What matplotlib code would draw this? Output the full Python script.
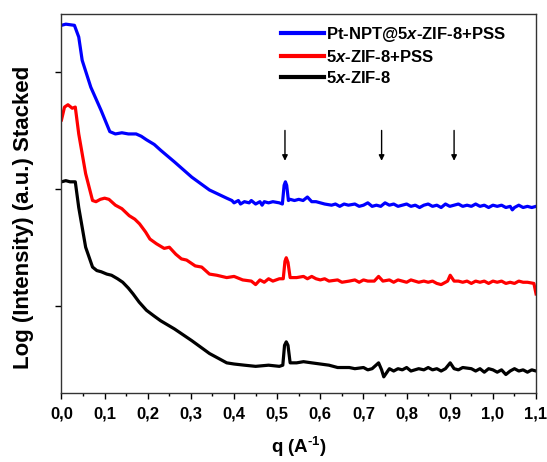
import matplotlib
matplotlib.use("Agg")
import matplotlib.pyplot as plt
from matplotlib.ticker import MultipleLocator, FuncFormatter

plt.rcParams['font.family'] = ['Liberation Sans', 'DejaVu Sans']
plt.rcParams['font.weight'] = 'bold'
plt.rcParams['mathtext.fontset'] = 'custom'
plt.rcParams['mathtext.it'] = 'Liberation Sans:italic:bold'
plt.rcParams['mathtext.rm'] = 'Liberation Sans:bold'
plt.rcParams['mathtext.bf'] = 'Liberation Sans:bold'

# q values (A^-1) and stacked log intensities
q_blue = [0.0, 0.01, 0.03, 0.04, 0.048, 0.068, 0.092, 0.112, 0.125, 0.14, 0.155, 0.173,
          0.185, 0.197, 0.215, 0.23, 0.262, 0.302, 0.343, 0.383, 0.395, 0.40, 0.41, 0.415,
          0.424, 0.435, 0.44, 0.45, 0.46, 0.465, 0.47, 0.48, 0.49, 0.505, 0.512, 0.516,
          0.519, 0.522, 0.526, 0.53, 0.54, 0.55, 0.56, 0.57, 0.58, 0.59, 0.60, 0.61,
          0.626, 0.635, 0.645, 0.655, 0.665, 0.68, 0.69, 0.70, 0.71, 0.72, 0.73, 0.74,
          0.75, 0.76, 0.77, 0.78, 0.79, 0.80, 0.81, 0.82, 0.83, 0.84, 0.85, 0.86, 0.87,
          0.88, 0.89, 0.90, 0.91, 0.92, 0.93, 0.94, 0.95, 0.96, 0.97, 0.98, 0.99, 1.0,
          1.01, 1.02, 1.03, 1.04, 1.045, 1.05, 1.06, 1.07, 1.08, 1.09, 1.1]
y_blue = [3.40, 3.41, 3.40, 3.30, 3.10, 2.87, 2.67, 2.49, 2.47, 2.48, 2.47, 2.47,
          2.45, 2.42, 2.38, 2.33, 2.23, 2.10, 1.99, 1.92, 1.90, 1.88, 1.90, 1.87,
          1.89, 1.88, 1.90, 1.87, 1.89, 1.86, 1.89, 1.88, 1.89, 1.88, 1.87, 2.03,
          2.06, 2.03, 1.90, 1.91, 1.90, 1.91, 1.90, 1.93, 1.89, 1.89, 1.88, 1.87,
          1.86, 1.87, 1.85, 1.87, 1.86, 1.87, 1.85, 1.86, 1.88, 1.85, 1.86, 1.85,
          1.88, 1.86, 1.87, 1.85, 1.86, 1.87, 1.85, 1.86, 1.84, 1.86, 1.87, 1.85, 1.86,
          1.84, 1.87, 1.85, 1.86, 1.87, 1.85, 1.86, 1.85, 1.87, 1.85, 1.86, 1.84, 1.86,
          1.85, 1.86, 1.84, 1.85, 1.82, 1.84, 1.86, 1.84, 1.85, 1.84, 1.85]

q_red = [0.0, 0.007, 0.015, 0.025, 0.032, 0.04, 0.056, 0.072, 0.08, 0.09, 0.10, 0.11,
         0.125, 0.14, 0.157, 0.17, 0.181, 0.195, 0.205, 0.22, 0.238, 0.25, 0.265, 0.278,
         0.29, 0.31, 0.325, 0.343, 0.36, 0.383, 0.40, 0.42, 0.44, 0.45, 0.46, 0.47, 0.48,
         0.49, 0.505, 0.514, 0.518, 0.521, 0.525, 0.53, 0.545, 0.561, 0.57, 0.58, 0.59,
         0.60, 0.61, 0.62, 0.64, 0.65, 0.667, 0.68, 0.69, 0.70, 0.71, 0.725, 0.735, 0.745,
         0.76, 0.77, 0.78, 0.79, 0.80, 0.81, 0.828, 0.84, 0.85, 0.86, 0.87, 0.88, 0.895,
         0.901, 0.91, 0.92, 0.93, 0.94, 0.95, 0.96, 0.97, 0.98, 0.99, 1.0, 1.01, 1.02,
         1.03, 1.04, 1.05, 1.06, 1.07, 1.08, 1.095, 1.1]
y_red = [2.59, 2.70, 2.72, 2.69, 2.70, 2.47, 2.13, 1.90, 1.89, 1.91, 1.92, 1.91,
         1.86, 1.83, 1.77, 1.74, 1.70, 1.63, 1.57, 1.53, 1.49, 1.50, 1.44, 1.40,
         1.39, 1.34, 1.33, 1.27, 1.26, 1.24, 1.25, 1.22, 1.21, 1.18, 1.22, 1.20, 1.23,
         1.21, 1.23, 1.23, 1.38, 1.41, 1.37, 1.24, 1.24, 1.25, 1.23, 1.25, 1.23,
         1.22, 1.23, 1.21, 1.22, 1.20, 1.21, 1.22, 1.20, 1.22, 1.21, 1.21, 1.25, 1.21,
         1.22, 1.20, 1.22, 1.21, 1.20, 1.22, 1.20, 1.21, 1.20, 1.21, 1.19, 1.18, 1.21,
         1.26, 1.21, 1.21, 1.20, 1.21, 1.19, 1.21, 1.20, 1.21, 1.19, 1.21, 1.20, 1.21,
         1.19, 1.20, 1.19, 1.21, 1.20, 1.20, 1.19, 1.10]

q_black = [0.0, 0.01, 0.02, 0.032, 0.04, 0.056, 0.072, 0.082, 0.092, 0.105, 0.116,
           0.13, 0.142, 0.155, 0.166, 0.18, 0.197, 0.215, 0.23, 0.262, 0.302, 0.343,
           0.383, 0.40, 0.424, 0.45, 0.48, 0.505, 0.513, 0.517, 0.521, 0.525, 0.53,
           0.545, 0.561, 0.58, 0.60, 0.62, 0.64, 0.667, 0.68, 0.70, 0.71, 0.72, 0.735,
           0.742, 0.747, 0.76, 0.77, 0.78, 0.79, 0.80, 0.81, 0.828, 0.84, 0.85, 0.86,
           0.87, 0.88, 0.89, 0.901, 0.91, 0.92, 0.93, 0.95, 0.96, 0.97, 0.98, 0.99, 1.0,
           1.01, 1.02, 1.03, 1.04, 1.05, 1.06, 1.07, 1.08, 1.09, 1.1]
y_black = [2.06, 2.07, 2.06, 2.06, 1.84, 1.50, 1.33, 1.30, 1.29, 1.27, 1.26,
           1.23, 1.20, 1.15, 1.10, 1.03, 0.96, 0.91, 0.87, 0.80, 0.70, 0.59,
           0.51, 0.50, 0.49, 0.48, 0.49, 0.48, 0.49, 0.66, 0.69, 0.66, 0.51,
           0.51, 0.52, 0.51, 0.50, 0.49, 0.47, 0.47, 0.46, 0.47, 0.45, 0.46, 0.51,
           0.45, 0.39, 0.46, 0.44, 0.46, 0.45, 0.47, 0.44, 0.46, 0.45, 0.47, 0.45,
           0.46, 0.44, 0.46, 0.51, 0.46, 0.45, 0.47, 0.46, 0.44, 0.46, 0.43, 0.46, 0.45,
           0.43, 0.45, 0.41, 0.44, 0.46, 0.44, 0.45, 0.43, 0.45, 0.44]

arrow_q = [0.518, 0.742, 0.91]
labels = ['Pt-NPT@$\\it{5x}$-ZIF-8+PSS', '$\\it{5x}$-ZIF-8+PSS', '$\\it{5x}$-ZIF-8']
colors = ['#0000ff', '#ff0000', '#000000']
xticks = [0.0, 0.1, 0.2, 0.3, 0.4, 0.5, 0.6, 0.7, 0.8, 0.9, 1.0, 1.1]

fig = plt.figure(figsize=(5.47, 4.62), dpi=100)
ax = fig.add_axes([0.1124, 0.1494, 0.980 - 0.1124, 0.9697 - 0.1494])

for qq, yy, c, lab in zip([q_blue, q_red, q_black], [y_blue, y_red, y_black], colors, labels):
    ax.plot(qq, yy, color=c, lw=2.3, label=lab)

for aq in arrow_q:
    ax.annotate('', xy=(aq, 2.24), xytext=(aq, 2.50),
                arrowprops=dict(arrowstyle='-|>', color='black', lw=1.0,
                                mutation_scale=8, shrinkA=0, shrinkB=0))

ax.set_xlim(0, 1.1)
ax.set_ylim(0.252, 3.497)
ax.set_xticks(xticks)
ax.xaxis.set_minor_locator(MultipleLocator(0.05))
ax.xaxis.set_major_formatter(FuncFormatter(lambda v, p: f"{v:.1f}".replace('.', ',')))
ax.set_yticks([1, 2, 3])
ax.set_yticklabels([])
ax.tick_params(axis='both', which='major', direction='out', length=4, width=1)
ax.tick_params(axis='x', which='minor', direction='out', length=2.5, width=1)
ax.tick_params(axis='x', labelsize=12, pad=6)
for lab in ax.get_xticklabels():
    lab.set_fontweight('bold')
for s in ax.spines.values():
    s.set_linewidth(1.0)
    s.set_color('#333333')

ax.set_xlabel('q (A$^{\u2010\\mathbf{1}}$)', fontsize=13.5, fontweight='bold', va='bottom')
ax.xaxis.set_label_coords(0.5, -0.174)
ax.set_ylabel('Log (Intensity) (a.u.) Stacked', fontsize=16, fontweight='bold', va='center')
ax.yaxis.set_label_coords(-0.081, 0.464)

leg = ax.legend(loc='upper right', bbox_to_anchor=(0.958, 0.998), frameon=False,
                handlelength=2.6, handletextpad=0.15, labelspacing=0.3,
                borderaxespad=0.2, prop={'weight': 'bold', 'size': 12})
for line in leg.get_lines():
    line.set_linewidth(3)

fig.savefig('out.png', dpi=100)
